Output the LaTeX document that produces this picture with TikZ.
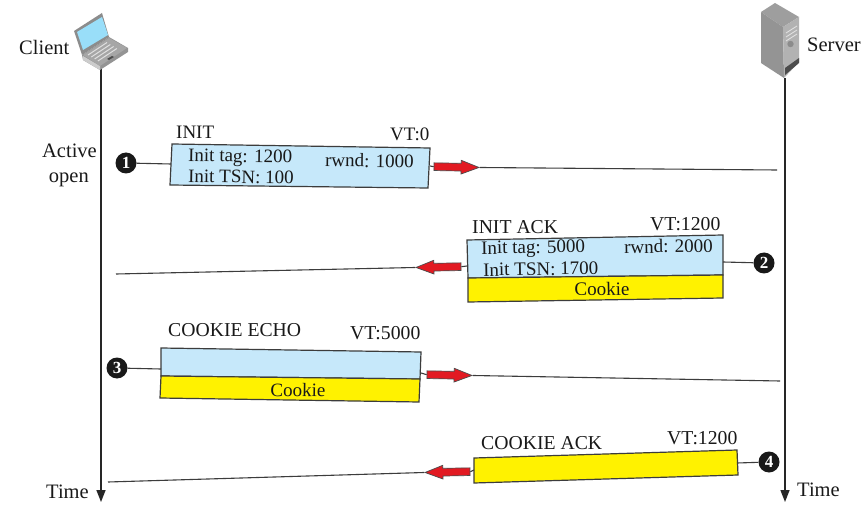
\documentclass[tikz,border=0pt]{standalone}
\usepackage{fontspec}
\setmainfont{Liberation Serif}
\usetikzlibrary{shapes.arrows,arrows.meta,calc}
\definecolor{boxblue}{RGB}{198,232,250}
\definecolor{cookie}{RGB}{255,242,0}
\definecolor{arrred}{RGB}{226,26,34}
\definecolor{edgegray}{RGB}{60,60,60}
\tikzset{
  x=1pt,y=-1pt,
  txt/.style={font=\fontsize{20.5}{22}\selectfont,inner sep=0pt,text=black!90},
  small/.style={font=\fontsize{19}{21}\selectfont,inner sep=0pt,text=black!90},
  caps/.style={font=\fontsize{19.7}{21}\selectfont,inner sep=0pt,text=black!90},
  num/.style={circle,fill=black!90,text=white,inner sep=0pt,minimum size=21pt,font=\bfseries\fontsize{17}{17}\selectfont},
  conn/.style={draw=edgegray,line width=1.1pt},
  life/.style={draw=black!85,line width=1.4pt,-{Triangle[length=12pt,width=9pt]}},
  bluebox/.style={fill=boxblue,draw=edgegray,line width=1.2pt,line join=miter},
  yelbox/.style={fill=cookie,draw=edgegray,line width=1.2pt,line join=miter},
  redarr/.style={single arrow,draw=black!70,fill=arrred,line width=.7pt,inner xsep=0pt,inner ysep=3.5pt,
    minimum height=45pt,single arrow head extend=3pt,single arrow head indent=0pt,
    single arrow tip angle=42,anchor=center},
}
\begin{document}
\begin{tikzpicture}
\useasboundingbox[fill=white] (0,0) rectangle (867,529);

% timelines
\coordinate (ctop) at (101,68);
\coordinate (cend) at (101,502);
\coordinate (stop) at (785,78);
\coordinate (send) at (785,502);
\draw[life] (ctop) -- (cend);
\draw[life] (stop) -- (send);

% laptop
\fill[black!42] (82,55) -- (109,37) -- (128,48) -- (128,52) -- (100,70) -- (83,60) -- cycle;
\fill[black!20] (83,56) -- (100,66) -- (100,70) -- (83,60) -- cycle;
\fill[black!45] (74,31) -- (102,13) -- (109,37) -- (82,55) -- cycle;
\fill[cyan!40!white] (77,32) -- (102,17) -- (108,35) -- (83,50) -- cycle;
\fill[black!35] (83,55) -- (109,38) -- (127,48) -- (100,66) -- cycle;
\foreach \i in {0,...,3}{\draw[black!12,line width=1pt] ($(88,55)+(\i*3.3,\i*2)$) -- ++(19,-12.5);}
\fill[black!70] (107,59) -- (112,56) -- (114,57) -- (109,60) -- cycle;

% server
\fill[black!38] (761,12) -- (775,3) -- (799,17) -- (783,27) -- cycle;
\fill[black!42] (761,12) -- (783,27) -- (784,78) -- (761,63) -- cycle;
\fill[black!30] (783,27) -- (799,17) -- (799,62) -- (784,78) -- cycle;
\foreach \y in {33,37,41}{\draw[black!12,line width=.9pt] (786,\y) -- (797,\y-7);}
\fill[black!45] (790.5,44) circle (3.2pt);
\fill[black!70] (785,68) -- (799,58) -- (799,63) -- (785,75) -- cycle;

% labels
\node[txt,anchor=west] (client) at (19,47) {Client};
\node[txt,anchor=west] (server) at (807,45) {Server};
\node[txt,anchor=east] (active) at (97,151) {Active};
\node[txt,anchor=east] (open) at (89,180) {open};
\node[txt,anchor=west] (timel) at (46,492) {Time};
\node[txt,anchor=west] (timer) at (797,490) {Time};

% message 1
\draw[bluebox] (172,144) -- (430,148) -- (428,188) -- (170,185) -- cycle;
\coordinate (b1l) at (171,164);
\coordinate (b1r) at (430,166);
\node[num] (n1) at (126,163) {1};
\draw[conn] (n1) -- (b1l);
\node[redarr,rotate=-1] (ra1) at (451.5,167) {};
\draw[conn] (b1r) -- (ra1.west);
\coordinate (e1) at (777,170);
\draw[conn] (ra1.east) -- (e1);
\node[small,anchor=west] (t1a) at (176,132) {INIT};
\node[small,anchor=west] (t1b) at (390,134) {VT:0};
\node[small,anchor=west,rotate=-1] (t1c) at (188,157) {Init tag: 1200};
\node[small,anchor=west,rotate=-1] (t1d) at (325,160) {rwnd: 1000};
\node[small,anchor=west,rotate=-1] (t1e) at (188,176) {Init TSN: 100};

% message 2
\draw[bluebox] (467,240) -- (723,235) -- (723,275) -- (468,278) -- cycle;
\draw[yelbox] (468,278) -- (723,275) -- (723,298) -- (468,302) -- cycle;
\coordinate (b2r) at (723,262);
\coordinate (b2l) at (467,266);
\node[num] (n2) at (764,263) {2};
\draw[conn] (n2) -- (b2r);
\node[redarr,rotate=181] (ra2) at (443.5,267) {};
\draw[conn] (b2l) -- (ra2.west);
\coordinate (e2) at (116,274);
\draw[conn] (ra2.east) -- (e2);
\node[caps,anchor=west] (t2a) at (472,227) {INIT ACK};
\node[caps,anchor=west] (t2b) at (650,224) {VT:1200};
\node[small,anchor=west,rotate=1] (t2c) at (481,250) {Init tag: 5000};
\node[small,anchor=west,rotate=1] (t2d) at (624,247) {rwnd: 2000};
\node[small,anchor=west,rotate=1] (t2e) at (483,270) {Init TSN: 1700};
\node[small,rotate=1] (t2f) at (602,289) {Cookie};

% message 3
\draw[bluebox] (161,348) -- (421,352) -- (420,379) -- (161,376) -- cycle;
\draw[yelbox] (161,376) -- (420,379) -- (419,402) -- (160,398) -- cycle;
\coordinate (b3l) at (161,369);
\coordinate (b3r) at (421,373);
\node[num] (n3) at (117,368) {3};
\draw[conn] (n3) -- (b3l);
\node[redarr,rotate=-1] (ra3) at (444.5,375) {};
\draw[conn] (b3r) -- (ra3.west);
\coordinate (e3) at (780,381);
\draw[conn] (ra3.east) -- (e3);
\node[caps,anchor=west] (t3a) at (168,330) {COOKIE ECHO};
\node[caps,anchor=west] (t3b) at (350,333) {VT:5000};
\node[small,rotate=-1] (t3c) at (298,390) {Cookie};

% message 4
\draw[yelbox] (474,458) -- (737,450) -- (738,475) -- (474,483) -- cycle;
\coordinate (b4r) at (737,463);
\coordinate (b4l) at (474,470);
\node[num] (n4) at (769,462) {4};
\draw[conn] (n4) -- (b4r);
\node[redarr,rotate=181] (ra4) at (452.5,472) {};
\draw[conn] (b4l) -- (ra4.west);
\coordinate (e4) at (108,482);
\draw[conn] (ra4.east) -- (e4);
\node[caps,anchor=west] (t4a) at (481,443) {COOKIE ACK};
\node[caps,anchor=west] (t4b) at (667,438) {VT:1200};
\end{tikzpicture}
\end{document}
